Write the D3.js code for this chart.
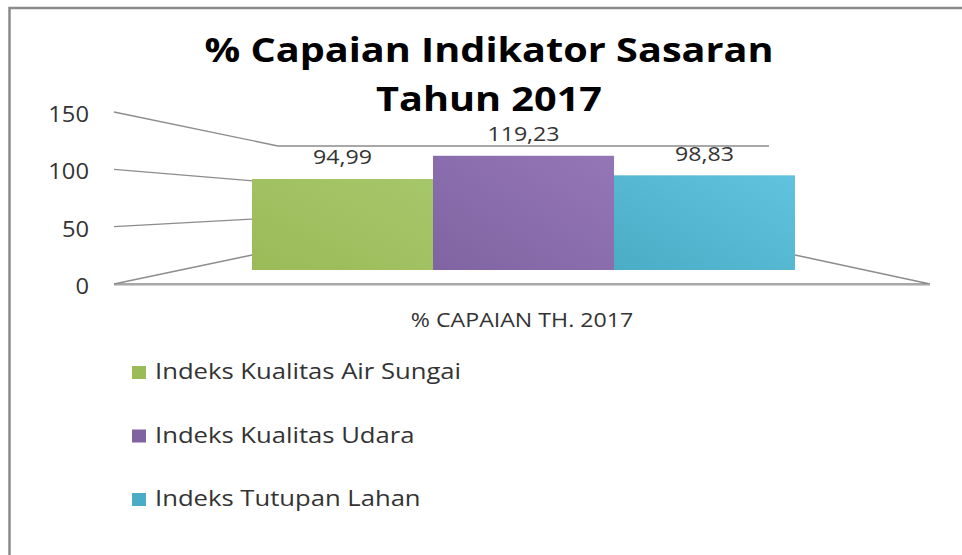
<!DOCTYPE html>
<html><head><meta charset="utf-8">
<script src="https://cdn.jsdelivr.net/npm/d3@7"></script>
<style>body{margin:0;background:#fff} svg{display:block}</style>
</head><body><svg id="c" width="962" height="555"></svg>
<script>
const titleLines = ["% Capaian Indikator Sasaran", "Tahun 2017"];
const categories = ["% CAPAIAN TH. 2017"];
const seriesNames = ["Indeks Kualitas Air Sungai", "Indeks Kualitas Udara", "Indeks Tutupan Lahan"];
const seriesValues = [94.99, 119.23, 98.83];
const valueLabels = ["94,99", "119,23", "98,83"];
const yTicks = [0, 50, 100, 150];
const seriesColors = ["#9BBB59", "#8064A2", "#4BACC6"];
const seriesLight = ["#A6C66A", "#9476B6", "#62C3DE"];

const svg = d3.select("#c");
const SX = 1.13;
const font = "'Open Sans', sans-serif";

// border
svg.append("path").attr("d", "M9.5,555 L9.5,8 L962,8").attr("fill", "none")
  .attr("stroke", "#8a8a8a").attr("stroke-width", 2.5);

// gradients
const defs = svg.append("defs");
seriesColors.forEach((c, i) => {
  const g = defs.append("linearGradient").attr("id", "g" + i)
    .attr("x1", "0").attr("y1", "1").attr("x2", "1").attr("y2", "0");
  g.append("stop").attr("offset", "0").attr("stop-color", c);
  g.append("stop").attr("offset", "1").attr("stop-color", seriesLight[i]);
});

// perspective scales
const yFront = d3.scaleLinear().domain([0, 150]).range([284, 112]);
const yBack = d3.scaleLinear().domain([0, 150]).range([255, 146]);
const xBackL = d3.scaleLinear().domain([0, 150]).range([252, 278]);
const xBackR = d3.scaleLinear().domain([0, 150]).range([795, 769]);
const xFrontL = 114, xFrontR = 930;
const yBar = d3.scaleLinear().domain([0, 150]).range([270, 126.3]);
const xBand = d3.scaleBand().domain(seriesNames).range([252, 795]).padding(0);

const grid = svg.append("g").attr("fill", "none").attr("stroke", "#8c8c8c").attr("stroke-width", 1.3);
yTicks.forEach(t => {
  grid.append("path").attr("d", `M${xFrontL},${yFront(t)} L${xBackL(t)},${yBack(t)} L${xBackR(t)},${yBack(t)}`);
});
// floor
grid.append("path").attr("d", `M${xFrontL},${yFront(0)} L${xFrontR},${yFront(0)} L${xBackR(0)},${yBack(0)}`);
grid.append("path").attr("d", `M${xFrontL},${yFront(0)+1.5} L${xFrontR},${yFront(0)+1.5}`).attr("stroke", "#d0d0d0").attr("stroke-width", 1);

function stext(sel, x, y, txt, size, anchor, weight, fill, sx) {
  return sel.append("text").attr("transform", `translate(${x},${y}) scale(${sx || SX},1)`)
    .attr("text-anchor", anchor).attr("font-family", font).attr("font-size", size)
    .attr("font-weight", weight || 400).attr("fill", fill || "#333").text(txt);
}
// tick labels
yTicks.forEach(t => stext(svg, 89, yFront(t) + 10, String(t), 21, "end"));

// bars
seriesNames.forEach((s, i) => {
  svg.append("rect").attr("x", xBand(s)).attr("width", xBand.bandwidth())
    .attr("y", yBar(seriesValues[i])).attr("height", yBar(0) - yBar(seriesValues[i]))
    .attr("fill", `url(#g${i})`);
  stext(svg, xBand(s) + xBand.bandwidth() / 2, yBar(seriesValues[i]) - 14.5, valueLabels[i], 20.5, "middle");
});

// category label
stext(svg, (xFrontL + xFrontR) / 2, 327, categories[0], 20.5, "middle");

// title
titleLines.forEach((t, i) => stext(svg, 489, 62 + i * 49, t, 34.5, "middle", 700, "#000", 1.15));

// legend
seriesNames.forEach((s, i) => {
  const y = 379 + i * 63.5;
  svg.append("rect").attr("x", 132).attr("y", y - 13).attr("width", 14).attr("height", 13)
    .attr("fill", seriesColors[i]);
  stext(svg, 155, y, s, 22.5, "start", 400, "#333", 1.14);
});
</script></body></html>
